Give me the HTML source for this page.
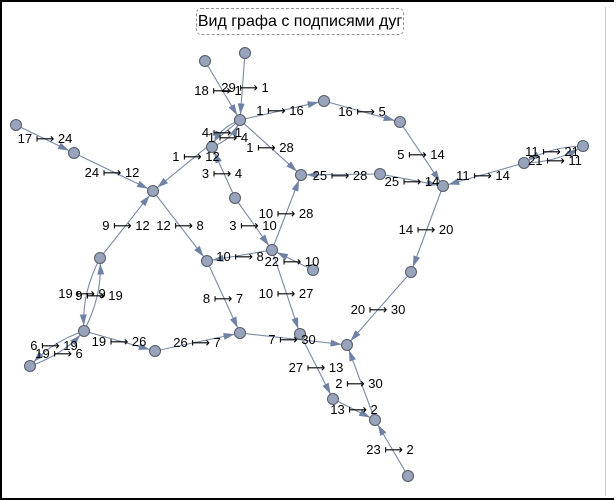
<!DOCTYPE html>
<html><head><meta charset="utf-8"><style>
html,body{margin:0;padding:0;background:#fff}
#wrap{position:relative;width:616px;height:500px;overflow:hidden;background:#fff}
#frame{position:absolute;left:0;top:0;width:612px;height:496px;border:2px solid #000;border-right:none}
#rline{position:absolute;left:605px;top:7px;width:1px;height:489px;background:#ccc}
#title{position:absolute;left:196px;top:8px;width:206px;height:25px;border:1px dashed #999;border-radius:5px;font:16px "Liberation Sans","DejaVu Sans",sans-serif;line-height:25px;text-align:center;color:#000;white-space:nowrap}
svg{position:absolute;left:0;top:0}
text{font-family:"Liberation Sans","DejaVu Sans",sans-serif;font-size:13px;fill:#000}
</style></head><body>
<div id="wrap">
<div id="frame"></div>
<div id="rline"></div>
<div id="title">Вид графа с подписями дуг</div>
<svg id="g" width="616" height="500"></svg>
</div>
<script>
const nodeIds=[18,29,1,16,5,14,4,12,17,24,3,10,28,25,11,21,20,9,8,22,19,6,26,7,27,30,13,2,23];
const nodeX=[205,245,240,324,400,443,212,153,16,74,235,272,301,380,524,583,411,100,207,313,84,30,155,240,300,347,333,375,408];
const nodeY=[61,53,120,101,122,186,147,191,125,153,198,250,175,174,163,146,272,258,261,270,331,366,351,333,334,345,399,420,476];
const edgeFrom=[18,29,1,16,5,1,4,1,1,17,24,3,3,10,25,25,11,11,21,14,20,9,12,10,22,10,8,19,9,6,19,19,26,7,27,13,2,23];
const edgeTo=[1,1,16,5,14,4,1,12,28,24,12,4,10,28,28,14,14,21,11,20,30,12,8,8,10,27,7,9,19,19,6,26,7,30,13,2,30,2];
const edgeBend=[0,0,0,0,0,4,4,0,0,0,0,0,0,0,0,0,0,4,4,0,0,0,0,0,0,0,0,5,5,4,4,0,0,0,0,0,0,0];
const labelX=[218,245,280,362,421,228,222,196,270,45,112,222,253,286,340,412,483,552,555,426,378,126,180,240,292,286,223,82,99,54,59,119,197,292,316,354,359,390];
const labelY=[90,87,110,111,154,137,132,156,147,138,172,173,225,213,175,181,175,151,160,229,309,225,225,256,261,293,298,293,295,345,353,341,342,339,367,409,383,449];
const svg=document.getElementById('g');const NS='http://www.w3.org/2000/svg';
function pos(id){const i=nodeIds.indexOf(id);return [nodeX[i],nodeY[i]];}
const edgeLayer=document.createElementNS(NS,'g');svg.appendChild(edgeLayer);
const labelLayer=document.createElementNS(NS,'g');
const nodeLayer=document.createElementNS(NS,'g');svg.appendChild(nodeLayer);svg.appendChild(labelLayer);
const R=5.5;
edgeFrom.forEach((a,k)=>{
 const b=edgeTo[k];const [x1,y1]=pos(a),[x2,y2]=pos(b);
 const dx=x2-x1,dy=y2-y1,L=Math.hypot(dx,dy);const nx=-dy/L,ny=dx/L;const bd=edgeBend[k];
 const cx=(x1+x2)/2+nx*bd*2,cy=(y1+y2)/2+ny*bd*2;
 let tx=x2-cx,ty=y2-cy;const tl=Math.hypot(tx,ty);tx/=tl;ty/=tl;
 const ex=x2-tx*R,ey=y2-ty*R;
 const p=document.createElementNS(NS,'path');
 p.setAttribute('d',bd?`M${x1},${y1} Q${cx},${cy} ${ex},${ey}`:`M${x1},${y1} L${ex},${ey}`);
 p.setAttribute('stroke','#7889a6');p.setAttribute('stroke-width','1.1');p.setAttribute('fill','none');
 
 
 edgeLayer.appendChild(p);
 const al=11,aw=3.5;const bx=ex-tx*al,by=ey-ty*al;
 const h=document.createElementNS(NS,'polygon');
 h.setAttribute('points',`${ex},${ey} ${bx-ty*aw},${by+tx*aw} ${bx+ty*aw},${by-tx*aw}`);
 h.setAttribute('fill','#6f82a3');
 
 
 edgeLayer.appendChild(h);
 const t=document.createElementNS(NS,'text');
 t.setAttribute('x',labelX[k]);t.setAttribute('y',labelY[k]+5);t.setAttribute('text-anchor','middle');
 t.textContent=a+' \u27FC '+b;
 
 
 labelLayer.appendChild(t);
});
nodeIds.forEach((id,i)=>{
 const c=document.createElementNS(NS,'circle');
 c.setAttribute('cx',nodeX[i]);c.setAttribute('cy',nodeY[i]);c.setAttribute('r',R);
 c.setAttribute('fill','#98a4bc');c.setAttribute('stroke','#555a66');c.setAttribute('stroke-width','1');
 
 
 nodeLayer.appendChild(c);
});
</script>
</body></html>
